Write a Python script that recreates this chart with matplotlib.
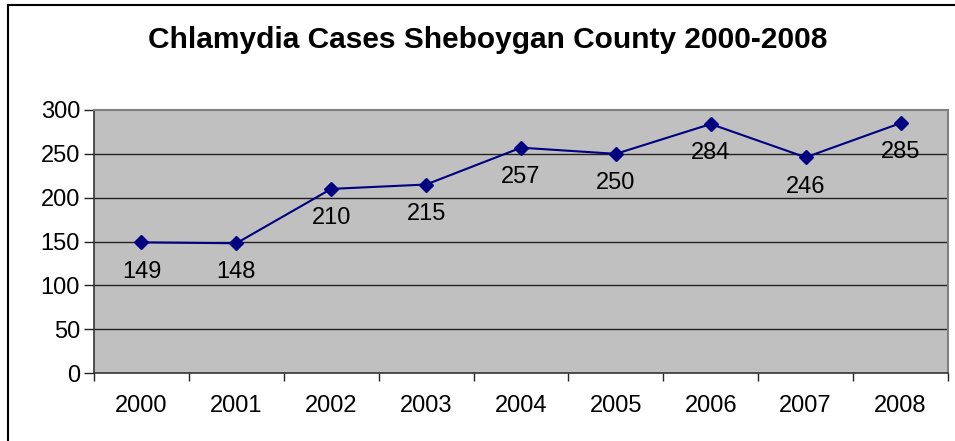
import matplotlib
matplotlib.use("Agg")
import matplotlib.pyplot as plt
from matplotlib.lines import Line2D

years = ["2000", "2001", "2002", "2003", "2004", "2005", "2006", "2007", "2008"]
cases = [149, 148, 210, 215, 257, 250, 284, 246, 285]
labels = ["149", "148", "210", "215", "257", "250", "284", "246", "285"]
yticks = [0, 50, 100, 150, 200, 250, 300]
title = "Chlamydia Cases Sheboygan County 2000-2008"

plt.rcParams['font.family'] = ['Liberation Sans', 'DejaVu Sans']

W, H = 955, 441
fig = plt.figure(figsize=(W / 100, H / 100), dpi=100)
fig.patch.set_facecolor('white')

# figure border (left and top visible)
fig.add_artist(Line2D([8 / W, 8 / W], [0, 1 - 5 / H], transform=fig.transFigure, color='black', lw=1.5))
fig.add_artist(Line2D([8 / W, 1], [1 - 5 / H, 1 - 5 / H], transform=fig.transFigure, color='black', lw=1.5))

left, right, top, bottom = 94, 948, 110, 373
ax = fig.add_axes([left / W, 1 - bottom / H, (right - left) / W, (bottom - top) / H])
ax.set_facecolor('#C0C0C0')

x = list(range(len(years)))
ax.set_xlim(-0.5, len(years) - 0.5)
ax.set_ylim(0, 300)

for t in yticks[1:-1]:
    ax.axhline(t, color='#222222', lw=1.0, zorder=1)

ax.plot(x, cases, color='#000080', lw=1.5, marker='D', markersize=7, zorder=3)

for xi, yi, lab in zip(x, cases, labels):
    ax.annotate(lab, (xi, yi), xytext=(0, -21), textcoords='offset points',
                ha='center', va='center', fontsize=17, color='black', zorder=4)

ax.set_yticks(yticks)
ax.set_yticklabels([str(t) for t in yticks], fontsize=17)
ax.set_xticks([i - 0.5 for i in range(len(years) + 1)], minor=False)
ax.set_xticklabels([])
ax.set_xticks(x, minor=True)
ax.set_xticklabels(years, minor=True, fontsize=17)
ax.tick_params(axis='x', which='minor', length=0, pad=16)
ax.tick_params(axis='x', which='major', length=6, width=1, color='#222222', direction='out')
ax.tick_params(axis='y', length=7, width=1, color='#222222', direction='out', pad=3)

for s in ['top', 'right']:
    ax.spines[s].set_color('#808080')
    ax.spines[s].set_linewidth(1.5)
ax.spines['left'].set_color('#333333')
ax.spines['bottom'].set_color('#333333')
ax.spines['left'].set_linewidth(1.2)
ax.spines['bottom'].set_linewidth(1.2)

fig.text(488 / W, 1 - 40 / H, title, ha='center', va='center', fontsize=21.5, fontweight='bold')

fig.savefig('out.png', dpi=100)
